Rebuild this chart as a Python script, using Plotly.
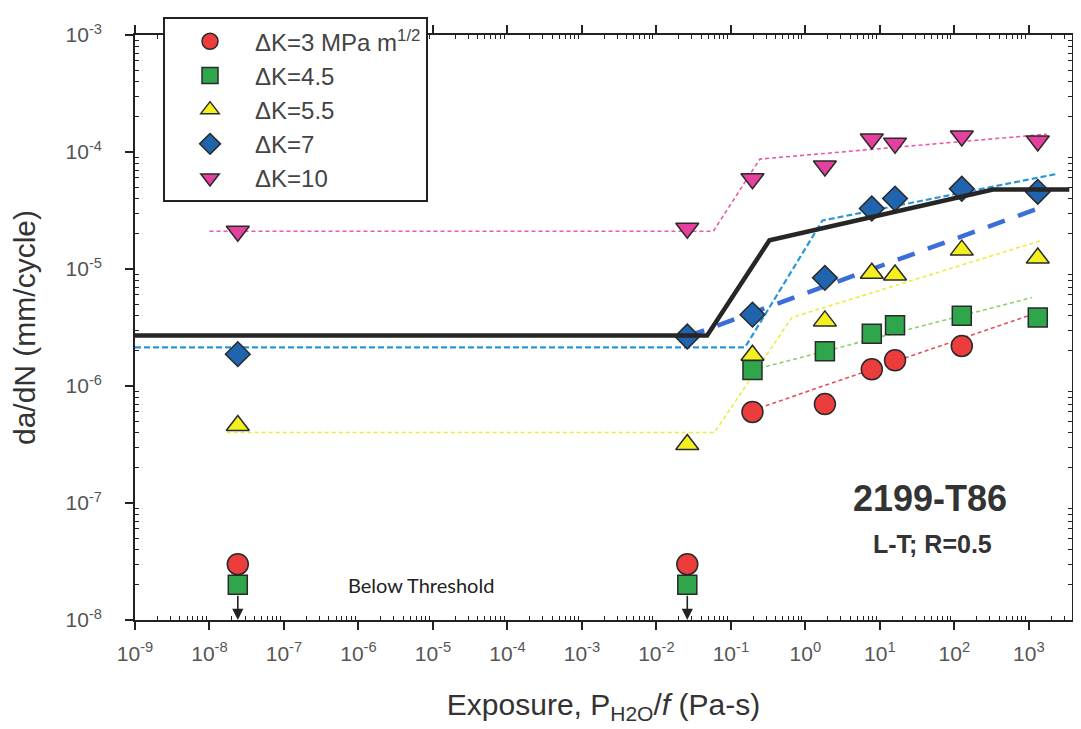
import numpy as np
import plotly.graph_objects as go

# ---------------- data ----------------
exposure = [2.4e-8, 0.026, 0.195, 1.83, 7.8, 16, 126, 1320]

dk3 = [3.0e-8, 3.0e-8, 6.0e-7, 7.0e-7, 1.39e-6, 1.66e-6, 2.2e-6]
dk45 = [2.0e-8, 2.0e-8, 1.37e-6, 1.98e-6, 2.8e-6, 3.3e-6, 3.98e-6, 3.85e-6]
dk55 = [4.6e-7, 3.16e-7, 1.83e-6, 3.6e-6, 9.2e-6, 8.9e-6, 1.45e-5, 1.24e-5]
dk7 = [1.87e-6, 2.65e-6, 4.07e-6, 8.4e-6, 3.29e-5, 4.0e-5, 4.85e-5, 4.57e-5]
dk10 = [2.1e-5, 2.23e-5, 5.9e-5, 7.6e-5, 1.29e-4, 1.19e-4, 1.37e-4, 1.24e-4]

fit3_x = [0.195, 1000]
fit3_y = [6.2e-7, 4.0e-6]
fit45_x = [0.195, 1100]
fit45_y = [1.37e-6, 5.7e-6]
fit55_x = [1.7e-8, 0.06, 0.66, 1500]
fit55_y = [4.0e-7, 4.0e-7, 3.85e-6, 1.76e-5]
fit7_x = [1e-9, 0.155, 1.7, 2400]
fit7_y = [2.14e-6, 2.14e-6, 2.6e-5, 6.5e-5]
fit10_x = [1e-8, 0.058, 0.245, 1740]
fit10_y = [2.1e-5, 2.1e-5, 8.7e-5, 1.42e-4]
trend7_x = [0.026, 1740]
trend7_y = [2.65e-6, 3.5e-5]
upper_x = [1e-9, 0.048, 0.33, 330, 3500]
upper_y = [2.7e-6, 2.7e-6, 1.76e-5, 4.77e-5, 4.77e-5]

below_x = [2.4e-8, 0.026]
below_from = [1.66e-8, 1.66e-8]

legend_names = ["ΔK=3 MPa m<sup>1/2</sup>", "ΔK=4.5", "ΔK=5.5", "ΔK=7", "ΔK=10"]

x_tick_exps = list(range(-9, 4))
y_tick_exps = list(range(-8, -2))

# ---------------- figure ----------------
FONT = "Liberation Sans, Arial, sans-serif"
OUT = "#2a2a2a"

fig = go.Figure()

def fit(x, y, color, width=1.6, dash="dash"):
    fig.add_trace(go.Scatter(x=x, y=y, mode="lines", showlegend=False,
                             line=dict(color=color, width=width, dash=dash),
                             hoverinfo="skip"))

fit(fit3_x, fit3_y, "#e8505a", 1.6, "4px,3px")
fit(fit45_x, fit45_y, "#8fcf6a", 1.6, "4px,3px")
fit(fit55_x, fit55_y, "#ecec3a", 1.6, "4px,3px")
fit(fit10_x, fit10_y, "#ea5aa8", 1.6, "4px,3px")
fit(fit7_x, fit7_y, "#2b96d6", 2.2, "6px,3px")
fit(trend7_x, trend7_y, "#3b6ed8", 4.5, "18px,14px")

def pts(x, y, name, symbol, color, size):
    fig.add_trace(go.Scatter(x=x, y=y, mode="markers", name=name,
                             legendgroup=name,
                             marker=dict(symbol=symbol, color=color, size=size,
                                         line=dict(color=OUT, width=1.5))))

pts(exposure[:len(dk3)], dk3, legend_names[0], "circle", "#ec3c3c", 21)
pts(exposure, dk45, legend_names[1], "square", "#2fa64c", 19)
pts(exposure, dk55, legend_names[2], "triangle-up", "#f4ef1e", 20)
pts(exposure, dk7, legend_names[3], "diamond", "#1f64ad", 19)
pts(exposure, dk10, legend_names[4], "triangle-down", "#e6409f", 20)

fit(upper_x, upper_y, "#262626", 4.5, "solid")

# arrows for below-threshold points
for bx, bf in zip(below_x, below_from):
    fig.add_annotation(x=np.log10(bx), y=-8, ax=np.log10(bx), ay=np.log10(bf),
                       xref="x", yref="y", axref="x", ayref="y",
                       text="", showarrow=True, arrowhead=2, arrowsize=1.4,
                       arrowwidth=1.6, arrowcolor="#222", standoff=0, startstandoff=0)

fig.add_annotation(x=0.305, y=0.059, xref="paper", yref="paper", showarrow=False,
                   xanchor="center", yanchor="middle",
                   text="Below Threshold", font=dict(family="Lato, Noto Sans, sans-serif",
                                                     size=20, color="#222"))
fig.add_annotation(x=0.848, y=0.2085, xref="paper", yref="paper", showarrow=False,
                   xanchor="center", yanchor="middle",
                   text="<b>2199-T86</b>", font=dict(family=FONT, size=36, color="#333"))
fig.add_annotation(x=0.851, y=0.1305, xref="paper", yref="paper", showarrow=False,
                   xanchor="center", yanchor="middle",
                   text="<b>L-T; R=0.5</b>", font=dict(family=FONT, size=25, color="#333"))

def minor_vals(lo, hi):
    return [m * 10.0 ** e for e in range(lo, hi) for m in range(2, 10)]

axis_common = dict(type="log", showgrid=False, zeroline=False, automargin=False,
                   showline=True, linecolor="#222", linewidth=1.6,
                   mirror="allticks", ticks="outside", ticklen=8, tickwidth=1.5,
                   tickcolor="#222",
                   tickfont=dict(family=FONT, size=21, color="#555"))

fig.update_xaxes(**axis_common,
                 range=[-9, 3.58],
                 tickmode="array",
                 tickvals=[10.0 ** e for e in x_tick_exps],
                 ticktext=[f"10<sup>{e}</sup>" for e in x_tick_exps],
                 ticklabelstandoff=6,
                 minor=dict(tickmode="array", tickvals=minor_vals(-9, 4),
                            ticks="inside", ticklen=4, tickwidth=1.2, tickcolor="#222"),
                 title=dict(text="Exposure, P<sub>H2O</sub>/<i>f</i> (Pa-s)",
                            font=dict(family=FONT, size=30, color="#333"), standoff=30))
fig.update_yaxes(**axis_common,
                 range=[-8, -3],
                 tickmode="array",
                 tickvals=[10.0 ** e for e in y_tick_exps],
                 ticktext=[f"10<sup>{e}</sup>" for e in y_tick_exps],
                 ticklabelstandoff=19,
                 minor=dict(tickmode="array", tickvals=minor_vals(-8, -3),
                            ticks="inside", ticklen=4, tickwidth=1.2, tickcolor="#222"),
                 title=dict(text="da/dN (mm/cycle)",
                            font=dict(family=FONT, size=30, color="#333"), standoff=28))

# the page adds an 8px body margin, so the figure is 8px smaller on each side
fig.update_layout(
    width=1073, height=721,
    margin=dict(l=127, r=9, t=22, b=109),
    paper_bgcolor="white", plot_bgcolor="white",
    showlegend=True,
    legend=dict(x=0.0299, y=1.0305, xanchor="left", yanchor="top",
                bgcolor="white", bordercolor="#222", borderwidth=2,
                font=dict(family=FONT, size=24, color="#444"),
                itemwidth=80, tracegroupgap=0),
)

fig.write_html("out.html")
